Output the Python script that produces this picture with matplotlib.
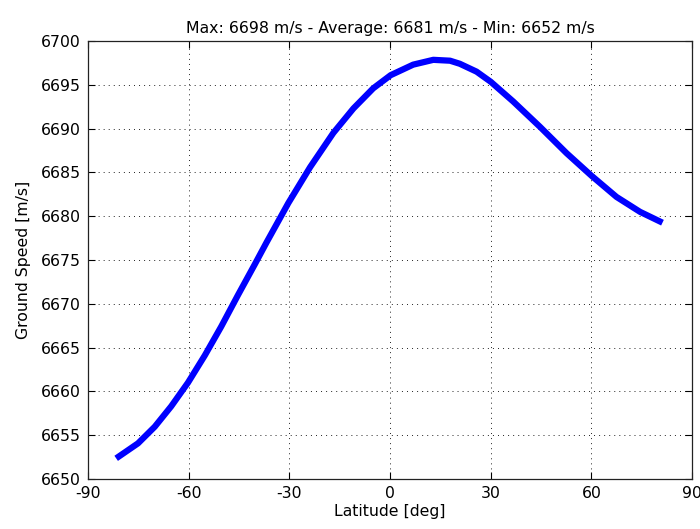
import matplotlib.pyplot as plt

# values
latitude = [-81.6, -75.1, -70.1, -65.2, -60.2, -55.2, -50.3, -45.3, -40.3, -36.8,
            -30.3, -23.8, -16.9, -10.9, -5.0, 0.2, 6.9, 12.9, 17.9, 20.8, 25.8,
            30.0, 36.7, 44.7, 52.6, 60.1, 67.5, 74.5, 81.2]
ground_speed = [6652.36, 6654.07, 6655.97, 6658.3, 6661.0, 6664.1, 6667.4, 6671.0,
                6674.5, 6677.0, 6681.5, 6685.6, 6689.5, 6692.3, 6694.6, 6696.1,
                6697.3, 6697.85, 6697.75, 6697.4, 6696.5, 6695.35, 6693.1, 6690.2,
                6687.2, 6684.6, 6682.2, 6680.5, 6679.26]

x_ticks = [-90, -60, -30, 0, 30, 60, 90]
y_ticks = list(range(6650, 6701, 5))
title = "Max: 6698 m/s - Average: 6681 m/s - Min: 6652 m/s"

plt.rcParams['font.family'] = ['DejaVu Sans']
plt.rcParams['axes.unicode_minus'] = False

fig = plt.figure(figsize=(7, 5.29), dpi=100)
ax = fig.add_axes([0.1257, 0.0945, 0.8629, 0.828])

ax.plot(latitude, ground_speed, color='#0000ff', linewidth=4.5,
        solid_capstyle='butt', solid_joinstyle='round')

ax.set_xlim(-90, 90)
ax.set_ylim(6650, 6700)
ax.set_xticks(x_ticks)
ax.set_yticks(y_ticks)
ax.grid(True, color='#222222', linestyle=(0, (1, 4.2)), linewidth=0.7)

ax.tick_params(direction='in', length=5, width=0.8, top=True, right=True,
               labelsize=11.3, colors='black', pad=5)
for s in ax.spines.values():
    s.set_linewidth(0.9)
    s.set_color('#222222')

ax.set_xlabel("Latitude [deg]", fontsize=11.3, labelpad=2)
ax.set_ylabel("Ground Speed [m/s]", fontsize=11.3, labelpad=7)
ax.set_title(title, fontsize=11.3, pad=6)

fig.savefig("out.png", dpi=100)
